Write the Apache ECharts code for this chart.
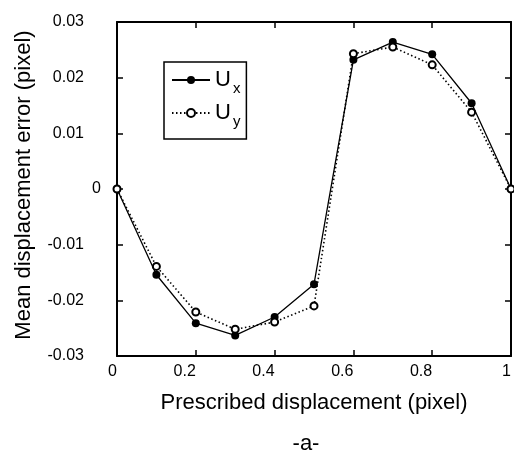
<!DOCTYPE html>
<html>
<head>
<meta charset="utf-8">
<script src="https://cdn.jsdelivr.net/npm/echarts@6/dist/echarts.min.js"></script>
<style>
html,body{margin:0;padding:0;background:#fff;}
#c{width:514px;height:458px;}
</style>
</head>
<body>
<div id="c"></div>
<script>
var xValues = [0, 0.1, 0.2, 0.3, 0.4, 0.5, 0.6, 0.7, 0.8, 0.9, 1.0];
var uxValues = [0, -0.0154, -0.0241, -0.0263, -0.0230, -0.0171, 0.0232, 0.0264, 0.0242, 0.0154, 0];
var uyValues = [0, -0.0139, -0.0221, -0.0252, -0.0239, -0.0210, 0.0243, 0.0255, 0.0223, 0.0138, 0];
var seriesNames = ['Ux', 'Uy'];
var xTitle = 'Prescribed displacement (pixel)';
var yTitle = 'Mean displacement error (pixel)';
var caption = '-a-';

function pairs(ys) { return xValues.map(function (x, i) { return [x, ys[i]]; }); }

var FONT = 'Liberation Sans, Arial, sans-serif';
var chart = echarts.init(document.getElementById('c'), null, {renderer: 'canvas'});
var axisLine = {show: true, onZero: false, lineStyle: {color: '#000', width: 2}};
var tick = {show: true, inside: true, length: 6, lineStyle: {color: '#000', width: 1.5}};

chart.setOption({
  animation: false,
  backgroundColor: '#fff',
  title: {
    text: caption, left: 301, top: 428, textAlign: 'center',
    textStyle: {fontFamily: FONT, fontSize: 22, fontWeight: 'normal', color: '#000'}
  },
  grid: {left: 117, right: 3, top: 22, bottom: 102, containLabel: false},
  legend: {
    orient: 'vertical', left: 164, top: 62, width: 86,
    itemWidth: 38, itemHeight: 10, itemGap: 6,
    padding: [7, 6, 10, 7],
    borderColor: '#000', borderWidth: 1.5, backgroundColor: '#fff',
    data: seriesNames,
    formatter: function (n) { return '{u|U}{s|' + n.charAt(1) + '}'; },
    textStyle: {
      fontFamily: FONT, color: '#000',
      rich: {
        u: {fontSize: 22, fontFamily: FONT, color: '#000', lineHeight: 32},
        s: {fontSize: 15, fontFamily: FONT, color: '#000', lineHeight: 15, verticalAlign: 'bottom', padding: [0, 0, 0, 2]}
      }
    }
  },
  xAxis: [{
    type: 'value', min: 0, max: 1, interval: 0.2, position: 'bottom',
    axisLine: axisLine, axisTick: tick, splitLine: {show: false},
    axisLabel: {
      fontFamily: FONT, fontSize: 16, color: '#000', margin: 8, align: 'right',
      formatter: function (v) { return String(Math.round(v * 10) / 10); }
    },
    name: xTitle, nameLocation: 'middle', nameGap: 36,
    nameTextStyle: {fontFamily: FONT, fontSize: 22, color: '#000'}
  }, {
    type: 'value', min: 0, max: 1, interval: 0.2, position: 'top',
    axisLine: axisLine, axisTick: tick, axisLabel: {show: false}, splitLine: {show: false}
  }],
  yAxis: [{
    type: 'value', min: -0.03, max: 0.03, interval: 0.01, position: 'left',
    axisLine: axisLine, axisTick: tick, splitLine: {show: false},
    axisLabel: {
      fontFamily: FONT, fontSize: 16, color: '#000', margin: 16,
      formatter: function (v) {
        var r = Math.round(v * 100) / 100;
        if (r === 0) return '{z|0}';
        return '{d|' + r.toFixed(2) + '}';
      },
      rich: {
        z: {fontFamily: FONT, fontSize: 16, color: '#000'},
        d: {fontFamily: FONT, fontSize: 16, color: '#000', padding: [0, 17, 0, 0]}
      }
    },
    name: yTitle, nameLocation: 'middle', nameGap: 82,
    nameTextStyle: {fontFamily: FONT, fontSize: 22, color: '#000', padding: [0, 0, 0, 8]}
  }, {
    type: 'value', min: -0.03, max: 0.03, interval: 0.01, position: 'right',
    axisLine: axisLine, axisTick: tick, axisLabel: {show: false}, splitLine: {show: false}
  }],
  series: [{
    name: seriesNames[0], type: 'line', data: pairs(uxValues),
    symbol: 'circle', symbolSize: 8,
    lineStyle: {color: '#000', width: 1.3, type: 'solid'},
    itemStyle: {color: '#000'}
  }, {
    name: seriesNames[1], type: 'line', data: pairs(uyValues),
    symbol: 'emptyCircle', symbolSize: 7,
    lineStyle: {color: '#000', width: 1.6, type: [1.5, 2.5]},
    itemStyle: {color: '#000', borderColor: '#000', borderWidth: 1.5}
  }]
});
</script>
</body>
</html>
